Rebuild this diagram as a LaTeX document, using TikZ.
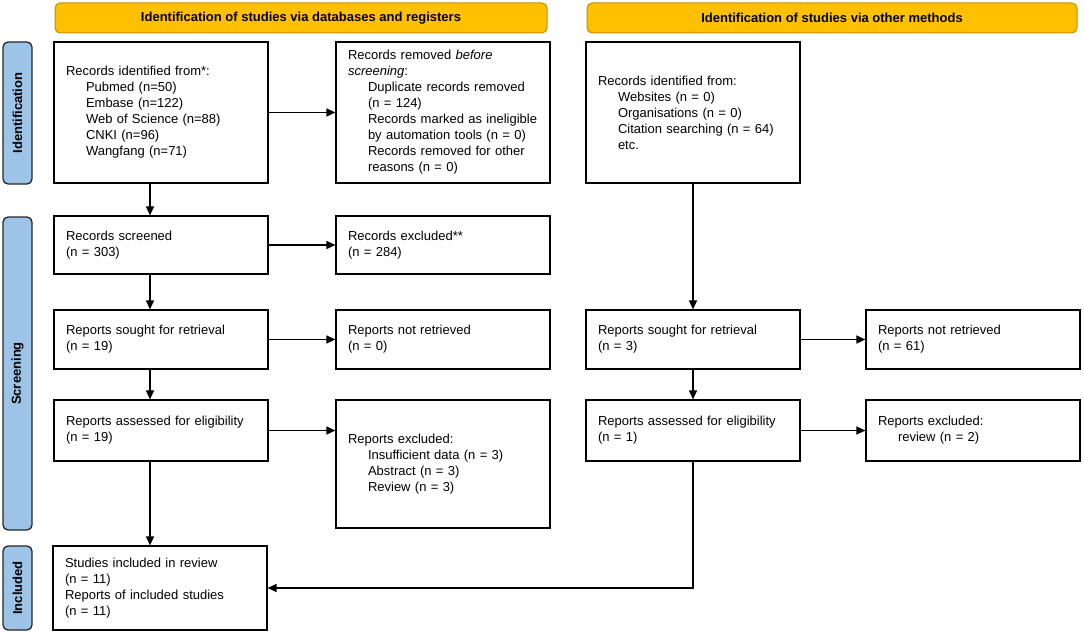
\documentclass[tikz,border=0pt]{standalone}
\usepackage{fontspec}
\setmainfont{Liberation Sans}
\usetikzlibrary{arrows.meta, calc}
\definecolor{hdrfill}{RGB}{255,192,0}
\definecolor{hdrdraw}{RGB}{191,144,0}
\definecolor{phasefill}{RGB}{157,195,230}
\newcommand{\indt}{\hspace*{20pt}}

\begin{document}
\begin{tikzpicture}[x=1pt, y=-1pt,
    box/.style={rectangle, draw, line width=1.2pt, fill=white, minimum width=214pt,
                text width=190pt, inner xsep=12pt, align=left,
                font=\fontsize{13}{16}\selectfont},
    header/.style={rectangle, rounded corners=5pt, draw=hdrdraw, line width=1pt, fill=hdrfill,
                   minimum height=30pt, font=\bfseries\fontsize{13}{16}\selectfont},
    phase/.style={rectangle, rounded corners=5pt, draw=black!85, line width=1.3pt, fill=phasefill,
                  rotate=90, minimum height=29pt, font=\bfseries\fontsize{13}{16}\selectfont},
    flow/.style={-{Triangle[length=9pt,width=8pt]}, line width=1.3pt}]

    \useasboundingbox (0,0) rectangle (1084,634);

    % Headers
    \node[header, minimum width=492pt] (hdb) at (301,18) {Identification of studies via databases and registers};
    \node[header, minimum width=490pt] (hoth) at (832,18) {Identification of studies via other methods};

    % Phases
    \node[phase, minimum width=142pt] (sid) at (17.5,113) {Identification};
    \node[phase, minimum width=313pt] (sscr) at (17.5,373.5) {Screening};
    \node[phase, minimum width=84pt] (sinc) at (17.5,588) {Included};

    % Databases and registers
    \node[box, minimum height=141pt] (rec) at (161,112.5) {Records identified from*:\\
        \indt Pubmed (n=50)\\ \indt Embase (n=122)\\ \indt Web of Science (n=88)\\
        \indt CNKI (n=96)\\ \indt Wangfang (n=71)};
    \node[box, minimum height=141pt] (removed) at (443,112.5) {Records removed \textit{before}\\
        \textit{screening}:\\ \indt Duplicate records removed\\ \indt (n = 124)\\
        \indt Records marked as ineligible\\ \indt by automation tools (n = 0)\\
        \indt Records removed for other\\ \indt reasons (n = 0)};
    \node[box, minimum height=58pt] (screened) at (161,245) {Records screened\\(n = 303)};
    \node[box, minimum height=58pt] (excl) at (443,245) {Records excluded**\\(n = 284)};
    \node[box, minimum height=59pt] (sought) at (161,339.5) {Reports sought for retrieval\\(n = 19)};
    \node[box, minimum height=59pt] (notret) at (443,339.5) {Reports not retrieved\\(n = 0)};
    \node[box, minimum height=61pt] (assessed) at (161,430.5) {Reports assessed for eligibility\\(n = 19)};
    \node[box, minimum height=128pt] (repexcl) at (443,464) {Reports excluded:\\
        \indt Insufficient data (n = 3)\\ \indt Abstract (n = 3)\\ \indt Review (n = 3)};
    \node[box, minimum height=84pt, minimum width=212pt] (incl) at (160,588) {Studies included in review\\(n = 11)\\
        Reports of included studies\\(n = 11)};

    % Other methods
    \node[box, minimum height=141pt] (other) at (693,112.5) {Records identified from:\\
        \indt Websites (n = 0)\\ \indt Organisations (n = 0)\\
        \indt Citation searching (n = 64)\\ \indt etc.};
    \node[box, minimum height=59pt] (osought) at (693,339.5) {Reports sought for retrieval\\(n = 3)};
    \node[box, minimum height=59pt, minimum width=212pt] (onotret) at (973,339.5) {Reports not retrieved\\(n = 61)};
    \node[box, minimum height=61pt] (oassessed) at (693,430.5) {Reports assessed for eligibility\\(n = 1)};
    \node[box, minimum height=61pt, minimum width=212pt] (orepexcl) at (973,430.5) {Reports excluded:\\ \indt review (n = 2)};

    % Arrows
    \draw[flow] (rec) -- (removed);
    \draw[flow] (screened) -- (excl);
    \draw[flow] (sought) -- (notret);
    \draw[flow] (assessed.east) -- (assessed.east -| repexcl.west);
    \draw[flow] ([xshift=-11pt]rec.south) -- ([xshift=-11pt]screened.north);
    \draw[flow] ([xshift=-11pt]screened.south) -- ([xshift=-11pt]sought.north);
    \draw[flow] ([xshift=-11pt]sought.south) -- ([xshift=-11pt]assessed.north);
    \draw[flow] ([xshift=-11pt]assessed.south) -- ([xshift=-11pt]assessed.south |- incl.north);
    \draw[flow] (other) -- (osought);
    \draw[flow] (osought) -- (onotret);
    \draw[flow] (osought) -- (oassessed);
    \draw[flow] (oassessed) -- (orepexcl);
    \draw[flow] (oassessed.south) |- (incl.east);
\end{tikzpicture}
\end{document}
